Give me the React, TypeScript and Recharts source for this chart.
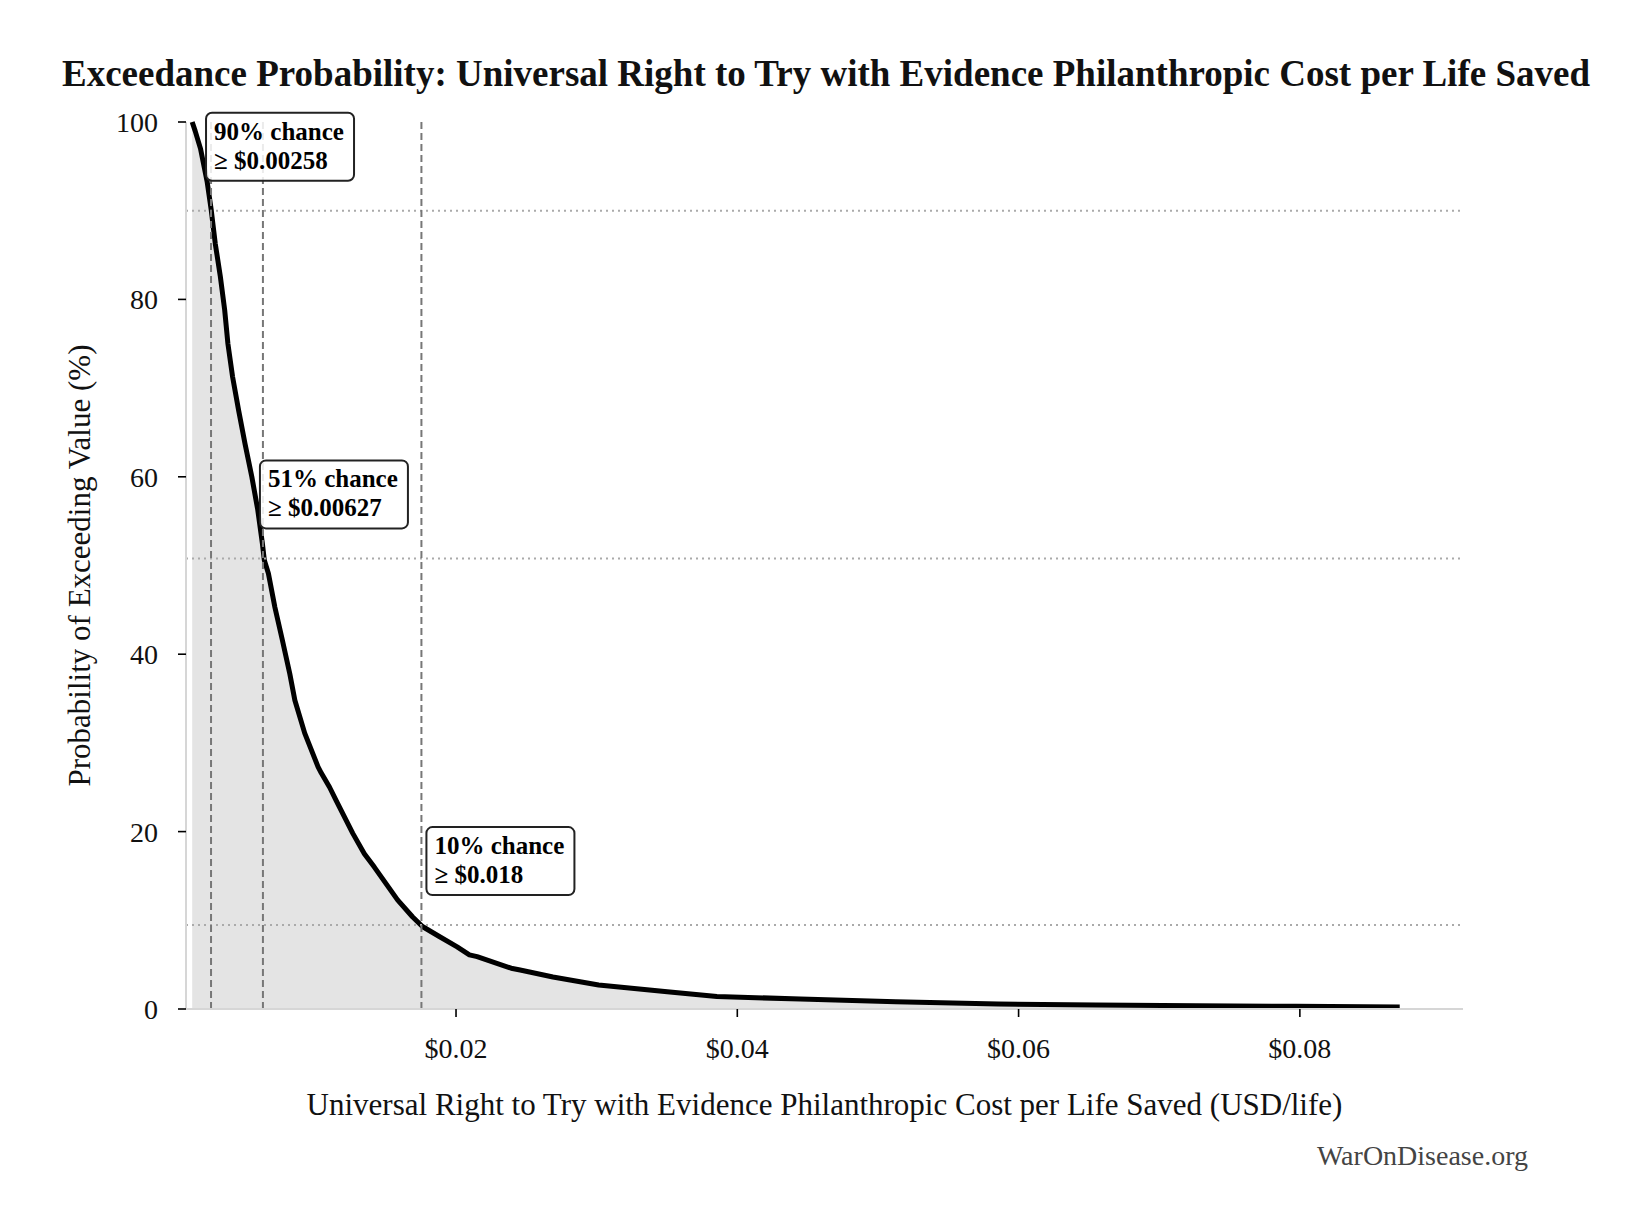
import React from 'react';
import { ComposedChart, Area, XAxis, YAxis, ReferenceLine, ReferenceDot, Label } from 'recharts';

// exceedance curve: cost (USD/life) vs % of runs at or above it
const costs = [
  0.00124, 0.00145, 0.00183, 0.0023, 0.0026, 0.00288, 0.00324, 0.00355, 0.00378, 0.00411,
  0.00454, 0.005, 0.00548, 0.0059, 0.00623, 0.00637, 0.00666, 0.00712, 0.00765, 0.00818,
  0.00854, 0.00924, 0.01019, 0.01042, 0.01101, 0.01148, 0.01266, 0.01348, 0.01419, 0.01584,
  0.0169, 0.01761, 0.01878, 0.02008, 0.02095, 0.0215, 0.02392, 0.02456, 0.02689, 0.03014,
  0.03502, 0.03855, 0.04449, 0.05127, 0.05855, 0.0655, 0.0726, 0.0797, 0.0871,
];
const probs = [
  100, 99, 97, 93.3, 90, 86.3, 82.6, 78.8, 75, 71.3,
  67.5, 63.7, 60, 56.3, 52.5, 50.6, 49.1, 45.3, 41.6, 37.8,
  34.8, 31.1, 27.3, 26.6, 25, 23.5, 19.8, 17.5, 16, 12.3,
  10.4, 9.3, 8.2, 7, 6.1, 5.9, 4.6, 4.4, 3.6, 2.7,
  1.95, 1.4, 1.13, 0.83, 0.56, 0.45, 0.37, 0.3, 0.22,
];

const xTicks = [0.02, 0.04, 0.06, 0.08];
const yTicks = [0, 20, 40, 60, 80, 100];

const markCosts = [0.00258, 0.00627, 0.01754];
const markProbs = [90, 50.8, 9.46];
const markTitles = ['90% chance', '51% chance', '10% chance'];
const markValues = ['≥ $0.00258', '≥ $0.00627', '≥ $0.018'];
const boxShift = [-5, -3, 5];

const data = costs.map((c, i) => ({ cost: c, prob: probs[i] }));

const FONT = "'Liberation Serif', 'Times New Roman', serif";

const NoteBox = (props: any) => {
  const { cx, cy, i } = props;
  const w = 148;
  const h = 68;
  const left = cx + boxShift[i];
  const top = cy - 30 - h;
  return (
    <g>
      <rect x={left} y={top} width={w} height={h} rx={6} fill="#fff" fillOpacity={0.85} stroke="#222" strokeWidth={2} />
      <text x={left + 8} y={top + 27} fontFamily={FONT} fontSize={25} fontWeight="bold" fill="#000">
        {markTitles[i]}
      </text>
      <text x={left + 8} y={top + 56} fontFamily={FONT} fontSize={25} fontWeight="bold" fill="#000">
        {markValues[i]}
      </text>
    </g>
  );
};

export default function App() {
  return (
    <div style={{ position: 'absolute', left: 0, top: 0, width: 1643, height: 1230, background: '#fff' }}>
      <svg width={1643} height={1230} style={{ position: 'absolute', left: 0, top: 0 }}>
        <text x={826} y={86} textAnchor="middle" fontFamily={FONT} fontSize={37} fontWeight="bold" fill="#111">
          Exceedance Probability: Universal Right to Try with Evidence Philanthropic Cost per Life Saved
        </text>
        <text x={1528} y={1165} textAnchor="end" fontFamily={FONT} fontSize={28} fill="#444">
          WarOnDisease.org
        </text>
      </svg>
      <div style={{ position: 'absolute', left: 0, top: 0 }}>
        <ComposedChart width={1643} height={1230} data={data} margin={{ top: 122, right: 180, bottom: 121, left: 0 }}>
          <XAxis
            dataKey="cost"
            type="number"
            domain={[0.0008, 0.0916]}
            ticks={xTicks}
            tickFormatter={(v: number) => `$${v.toFixed(2)}`}
            height={100}
            tickSize={8}
            tickMargin={21}
            axisLine={{ stroke: '#d6d6d6', strokeWidth: 2 }}
            tickLine={{ stroke: '#000', strokeWidth: 1.6 }}
            tick={{ fontFamily: FONT, fontSize: 28, fill: '#111' }}
            allowDataOverflow
          >
            <Label
              content={(p: any) => {
                const vb = p.viewBox;
                return (
                  <text x={vb.x + vb.width / 2} y={1115} textAnchor="middle" fontFamily={FONT} fontSize={31} fill="#111">
                    Universal Right to Try with Evidence Philanthropic Cost per Life Saved (USD/life)
                  </text>
                );
              }}
            />
          </XAxis>
          <YAxis
            type="number"
            domain={[0, 100]}
            ticks={yTicks}
            width={186}
            tickSize={8}
            tickMargin={20}
            axisLine={{ stroke: '#d6d6d6', strokeWidth: 2 }}
            tickLine={{ stroke: '#000', strokeWidth: 1.6 }}
            tick={{ fontFamily: FONT, fontSize: 28, fill: '#111' }}
          >
            <Label
              content={(p: any) => {
                const vb = p.viewBox;
                const cy = vb.y + vb.height / 2;
                return (
                  <text x={90} y={cy} transform={`rotate(-90, 90, ${cy})`} textAnchor="middle" fontFamily={FONT} fontSize={31} fill="#111">
                    Probability of Exceeding Value (%)
                  </text>
                );
              }}
            />
          </YAxis>
          <Area
            type="linear"
            dataKey="prob"
            stroke="#000"
            strokeWidth={5}
            strokeLinejoin="round"
            fill="#e4e4e4"
            fillOpacity={1}
            isAnimationActive={false}
            dot={false}
            activeDot={false}
          />
          {markProbs.map((p) => (
            <ReferenceLine key={`h${p}`} y={p} stroke="#aaaaaa" strokeWidth={2} strokeDasharray="2 4" />
          ))}
          {markCosts.map((c) => (
            <ReferenceLine key={`v${c}`} x={c} stroke="#777777" strokeWidth={2} strokeDasharray="7 4" />
          ))}
          {markCosts.map((c, i) => (
            <ReferenceDot
              key={`n${c}`}
              x={c}
              y={markProbs[i]}
              r={0}
              shape={(p: any) => <NoteBox {...p} i={i} />}
            />
          ))}
        </ComposedChart>
      </div>
    </div>
  );
}
